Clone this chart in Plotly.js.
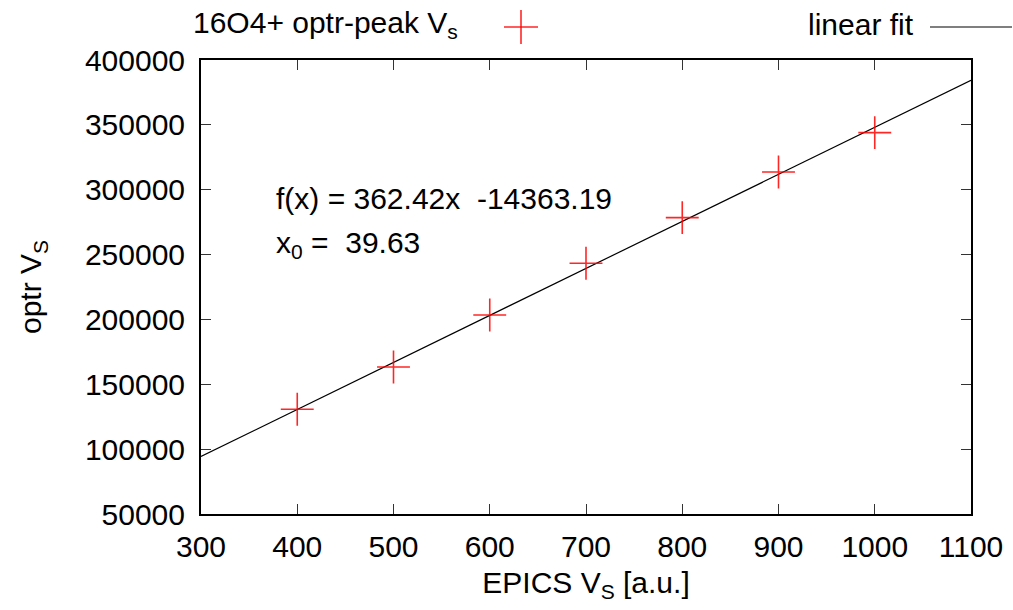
<!DOCTYPE html>
<html>
<head>
<meta charset="utf-8">
<script src="https://cdn.plot.ly/plotly-3.0.1.min.js"></script>
<style>html,body{margin:0;padding:0;background:#fff;}#chart{width:1013px;height:610px;}</style>
</head>
<body>
<div id="chart"></div>
<script>
var epicsVs = [400, 500, 600, 700, 800, 900, 1000];
var optrVs = [130700, 163300, 203400, 243300, 278500, 313700, 344000];
var fitSlope = [362.42];
var fitIntercept = [-14363.19];
var fitRange = [300, 1100];
var xTicks = [300, 400, 500, 600, 700, 800, 900, 1000, 1100];
var yTicks = [50000, 100000, 150000, 200000, 250000, 300000, 350000, 400000];

var fitY = fitRange.map(function (x) { return fitSlope[0] * x + fitIntercept[0]; });
var F = 'Liberation Sans, Arial, sans-serif';
var FS = 30;

var traces = [
  {
    x: fitRange, y: fitY, mode: 'lines', type: 'scatter',
    line: {color: '#000', width: 1.2}, hoverinfo: 'skip', showlegend: false
  },
  {
    x: epicsVs, y: optrVs, mode: 'markers', type: 'scatter',
    marker: {symbol: 'cross-thin', size: 23.5, line: {color: 'rgba(255,0,0,0.85)', width: 1.6}},
    showlegend: false
  }
];

var axisCommon = {
  showgrid: false, zeroline: false, showline: true, linecolor: '#000', linewidth: 2,
  mirror: 'ticks', ticks: 'inside', ticklen: 10, tickwidth: 1, tickcolor: '#333',
  tickfont: {family: F, size: FS, color: '#000'}
};

var layout = {
  width: 1013, height: 610,
  margin: {l: 201, r: 42, t: 60, b: 96},
  paper_bgcolor: '#fff', plot_bgcolor: '#fff',
  font: {family: F, color: '#000'},
  xaxis: Object.assign({}, axisCommon, {
    range: [300, 1100], tickvals: xTicks, ticktext: xTicks.map(String),
    ticklabelstandoff: 5,
    title: {text: 'EPICS V<sub>S</sub> [a.u.]', font: {family: F, size: FS}, standoff: 10}
  }),
  yaxis: Object.assign({}, axisCommon, {
    range: [50000, 400000], tickvals: yTicks, ticktext: yTicks.map(String),
    ticklabelstandoff: 8,
    title: {text: 'optr V<sub>S</sub>', font: {family: F, size: FS}, standoff: 34}
  }),
  annotations: [
    {xref: 'paper', yref: 'paper', x: (191 - 201) / 770, y: (514 - 25) / 454, xanchor: 'left', yanchor: 'middle',
     text: '16O4+ optr-peak V<sub>s</sub>', showarrow: false, font: {family: F, size: FS}},
    {xref: 'paper', yref: 'paper', x: (916 - 201) / 770, y: (514 - 25) / 454, xanchor: 'right', yanchor: 'middle',
     text: 'linear fit', showarrow: false, font: {family: F, size: FS}},
    {xref: 'paper', yref: 'paper', x: (274 - 201) / 770, y: (514 - 198) / 454, xanchor: 'left', yanchor: 'middle',
     text: 'f(x) = ' + fitSlope[0].toFixed(2) + 'x  ' + fitIntercept[0].toFixed(2), showarrow: false,
     font: {family: F, size: FS}},
    {xref: 'paper', yref: 'paper', x: (274 - 201) / 770, y: (514 - 245) / 454, xanchor: 'left', yanchor: 'middle',
     text: 'x<sub>0</sub> =  ' + (-fitIntercept[0] / fitSlope[0]).toFixed(2), showarrow: false,
     font: {family: F, size: FS}}
  ],
  shapes: [
    {type: 'line', xref: 'paper', yref: 'paper', x0: (504 - 201) / 770, x1: (538 - 201) / 770,
     y0: (514 - 27) / 454, y1: (514 - 27) / 454, line: {color: 'rgba(255,0,0,0.85)', width: 1.6}},
    {type: 'line', xref: 'paper', yref: 'paper', x0: (521 - 201) / 770, x1: (521 - 201) / 770,
     y0: (514 - 10) / 454, y1: (514 - 44) / 454, line: {color: 'rgba(255,0,0,0.85)', width: 1.6}},
    {type: 'line', xref: 'paper', yref: 'paper', x0: (930 - 201) / 770, x1: (1012 - 201) / 770,
     y0: (514 - 27) / 454, y1: (514 - 27) / 454, line: {color: '#000', width: 1.2}}
  ]
};

Plotly.newPlot('chart', traces, layout, {displayModeBar: false, staticPlot: true});
</script>
</body>
</html>
